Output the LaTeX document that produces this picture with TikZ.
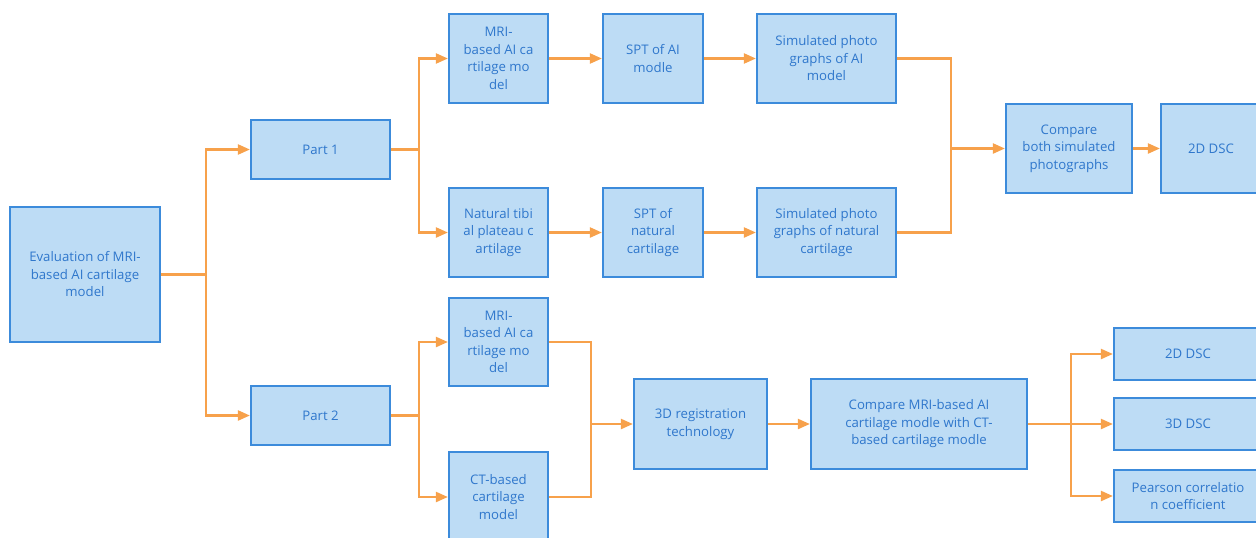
\documentclass[tikz,border=0pt]{standalone}
\usepackage{fontspec}
\setmainfont{Open Sans}
\usetikzlibrary{arrows.meta}
\definecolor{boxfill}{HTML}{BDDCF5}
\definecolor{boxline}{HTML}{3C8BDB}
\definecolor{txt}{HTML}{2F77CC}
\definecolor{arr}{HTML}{F7A14B}
\begin{document}
\begin{tikzpicture}[x=1pt,y=-1pt,
 box/.style={draw=boxline,fill=boxfill,line width=2.2pt,text=txt,align=center,
   font=\fontsize{13.2}{17.5}\selectfont,inner sep=0pt},
 conn/.style={draw=arr,line width=2.2pt,-{Triangle[length=12pt,width=10pt]}},
 wire/.style={draw=arr,line width=2.2pt}]
\useasboundingbox (0,0) rectangle (1256,538);
\clip (0,0) rectangle (1256,538);
% left
\node[box,minimum width=150pt,minimum height=135pt] (eval) at (85,274.5) {Evaluation of MRI-\\based AI cartilage\\model};
\node[box,minimum width=139pt,minimum height=59pt] (p1) at (320.5,149.5) {Part 1};
\node[box,minimum width=139pt,minimum height=59pt] (p2) at (320.5,415.5) {Part 2};
% top rows
\node[box,minimum width=99pt,minimum height=89pt] (mri1) at (498.5,58.5) {MRI-\\based AI ca\\rtilage mo\\del};
\node[box,minimum width=100pt,minimum height=89pt] (spt1) at (653,58.5) {SPT of AI\\modle};
\node[box,minimum width=139pt,minimum height=89pt] (sim1) at (826.5,58.5) {Simulated photo\\graphs of AI\\model};
\node[box,minimum width=99pt,minimum height=89pt] (nat) at (498.5,232.5) {Natural tibi\\al plateau c\\artilage};
\node[box,minimum width=100pt,minimum height=89pt] (spt2) at (653,232.5) {SPT of\\natural\\cartilage};
\node[box,minimum width=139pt,minimum height=89pt] (sim2) at (826.5,232.5) {Simulated photo\\graphs of natural\\cartilage};
\node[box,minimum width=126pt,minimum height=89pt] (cmp1) at (1069,148.5) {Compare\\both simulated\\photographs};
\node[box,minimum width=100pt,minimum height=89pt] (dsc1) at (1211,148.5) {2D DSC};
% bottom rows
\node[box,minimum width=99pt,minimum height=88pt] (mri2) at (498.5,342) {MRI-\\based AI ca\\rtilage mo\\del};
\node[box,minimum width=99pt,minimum height=90pt] (ct) at (498.5,497) {CT-based\\cartilage\\model};
\node[box,minimum width=133pt,minimum height=90pt] (reg) at (700.5,424) {3D registration\\technology};
\node[box,minimum width=216pt,minimum height=90pt] (cmp2) at (919,424) {Compare MRI-based AI\\cartilage modle with CT-\\based cartilage modle};
\node[box,minimum width=148pt,minimum height=52pt] (dsc2) at (1188,354) {2D DSC};
\node[box,minimum width=148pt,minimum height=52pt] (dsc3) at (1188,424) {3D DSC};
\node[box,minimum width=148pt,minimum height=52pt] (pear) at (1188,496) {Pearson correlatio\\n coefficient};
% junctions
\coordinate (j1) at (206,274.5);
\coordinate (j2) at (419,149.5);
\coordinate (j3) at (419,415.5);
\coordinate (m1) at (951,148.5);
\coordinate (m2) at (591,424);
\coordinate (j4) at (1071,424);
% connectors
\draw[wire] (eval.east) -- (j1);
\draw[conn] (j1) |- (p1.west);
\draw[conn] (j1) |- (p2.west);
\draw[wire] (p1.east) -- (j2);
\draw[conn] (j2) |- (mri1.west);
\draw[conn] (j2) |- (nat.west);
\draw[conn] (mri1) -- (spt1);
\draw[conn] (spt1) -- (sim1);
\draw[conn] (nat) -- (spt2);
\draw[conn] (spt2) -- (sim2);
\draw[wire] (sim1.east) -| (m1) |- (sim2.east);
\draw[conn] (m1) -- (cmp1.west);
\draw[conn] (cmp1) -- (dsc1);
\draw[wire] (p2.east) -- (j3);
\draw[conn] (j3) |- (mri2.west);
\draw[conn] (j3) |- (ct.west);
\draw[wire] (mri2.east) -| (m2) |- (ct.east);
\draw[conn] (m2) -- (reg.west);
\draw[conn] (reg) -- (cmp2);
\draw[wire] (cmp2.east) -- (j4);
\draw[conn] (j4) |- (dsc2.west);
\draw[conn] (j4) -- (dsc3.west);
\draw[conn] (j4) |- (pear.west);
\end{tikzpicture}
\end{document}
